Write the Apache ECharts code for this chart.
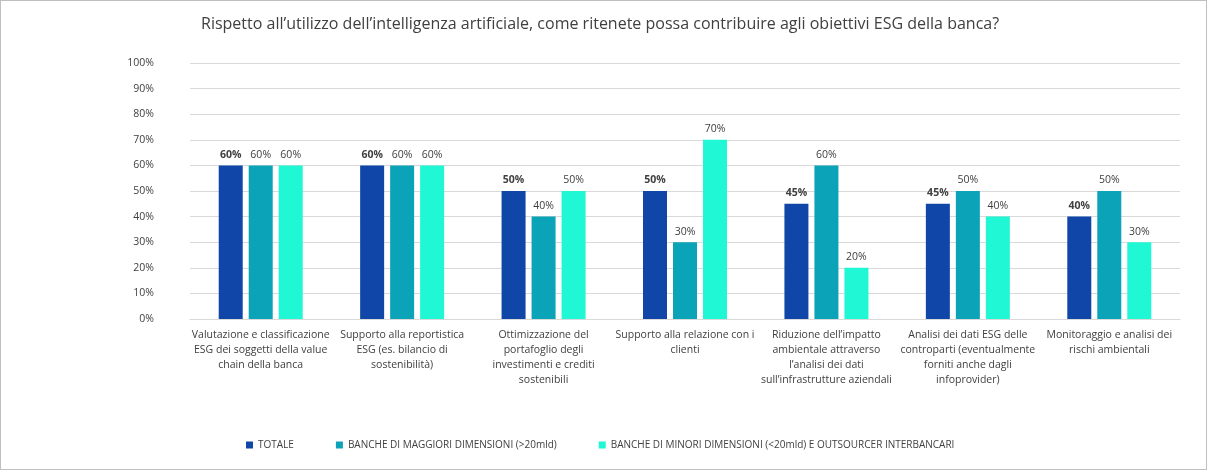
<!DOCTYPE html><html><head><meta charset="utf-8">
<script src="https://cdn.jsdelivr.net/npm/echarts@6/dist/echarts.min.js"></script>
<style>body{margin:0}#c{width:1205px;height:468px;border:1px solid #bfbfbf}</style></head><body><div id="c"></div>
<script>
const categories=["Valutazione e classificazione\nESG dei soggetti della value\nchain della banca","Supporto alla reportistica\nESG (es. bilancio di\nsostenibilità)","Ottimizzazione del\nportafoglio degli\ninvestimenti e crediti\nsostenibili","Supporto alla relazione con i\nclienti","Riduzione dell’impatto\nambientale attraverso\nl’analisi dei dati\nsull’infrastrutture aziendali","Analisi dei dati ESG delle\ncontroparti (eventualmente\nforniti anche dagli\ninfoprovider)","Monitoraggio e analisi dei\nrischi ambientali"];
const totale=[60,60,50,50,45,45,40];
const maggiori=[60,60,40,30,60,50,50];
const minori=[60,60,50,70,20,40,30];
const names=["TOTALE","BANCHE DI MAGGIORI DIMENSIONI (>20mld)","BANCHE DI MINORI DIMENSIONI (<20mld) E OUTSOURCER INTERBANCARI"];
const colors=["#0f46a8","#0aa3b8","#1ff7d5"];
const f="'Open Sans', sans-serif";
const ch=echarts.init(document.getElementById('c'));
const mk=(n,d,i)=>({name:n,type:'bar',data:d,barWidth:24,barGap:'25%',itemStyle:{color:colors[i]},
 label:{show:true,position:'top',formatter:'{c}%',fontFamily:f,fontSize:10.5,color:'#404040',fontWeight:i==0?'bold':'normal'}});
ch.setOption({
 title:{text:"Rispetto all’utilizzo dell’intelligenza artificiale, come ritenete possa contribuire agli obiettivi ESG della banca?",left:195,top:10,textStyle:{fontFamily:f,fontSize:16,fontWeight:'normal',color:'#404040'}},
 legend:{bottom:14,left:240,itemWidth:7,itemHeight:7,itemGap:42,icon:'rect',textStyle:{fontFamily:f,fontSize:10,color:'#404040'},data:names},
 grid:{left:189,right:26,top:62,bottom:150},
 xAxis:{type:'category',data:categories,axisTick:{show:false},axisLine:{lineStyle:{color:'#d9d9d9'}},
  axisLabel:{interval:0,fontFamily:f,fontSize:10.5,color:'#404040',lineHeight:15,margin:9}},
 yAxis:{type:'value',min:0,max:100,interval:10,axisLabel:{formatter:'{value}%',fontFamily:f,fontSize:10.5,color:'#404040',margin:36},splitLine:{lineStyle:{color:'#d9d9d9'}}},
 series:[mk(names[0],totale,0),mk(names[1],maggiori,1),mk(names[2],minori,2)]
});
</script></body></html>
